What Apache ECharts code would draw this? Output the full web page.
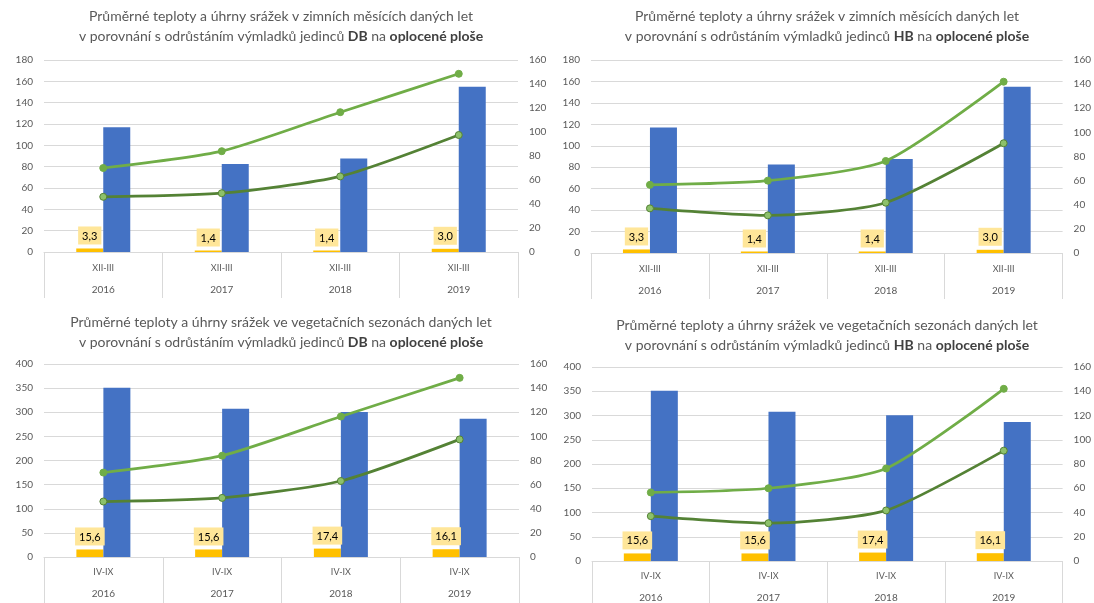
<!DOCTYPE html>
<html>
<head>
<meta charset="utf-8">
<script src="https://cdn.jsdelivr.net/npm/echarts@6/dist/echarts.min.js"></script>
<style>
  html, body { margin: 0; padding: 0; background: #fff; }
  #chart { width: 1094px; height: 603px; }
</style>
</head>
<body>
<div id="chart"></div>
<script>
// Years on the category axis and the season shown above each year
const years = ['2016', '2017', '2018', '2019'];
const winterPeriod = 'XII-III';
const vegPeriod = 'IV-IX';

// Mean temperature (°C) and precipitation (mm) per season
const winterTemp = [3.3, 1.4, 1.4, 3.0];
const winterPrecip = [117, 82.6, 87.6, 155];
const vegTemp = [15.6, 15.6, 17.4, 16.1];
const vegPrecip = [351, 307.5, 300.5, 286.5];

// Sprout growth (cm), right axis
const dbUpper = [70, 84, 116.5, 148.5];
const dbLower = [46, 49, 63, 97.5];
const hbUpper = [56.5, 60, 76.3, 142];
const hbLower = [37, 31.2, 41.7, 91];

// Axis tick ranges
const winterAxis = { max: 180, step: 20 };
const vegAxis = { max: 400, step: 50 };
const growthAxis = { max: 160, step: 20 };

const FONT = 'Lato';
const GRAY = '#595959';
const GRID = '#d9d9d9';

const panels = [
  { grid: { left: 44, top: 60, width: 474, height: 192 }, titleX: 281, titleY: 6,
    line1: 'Průměrné teploty a úhrny srážek v zimních měsících daných let', who: 'DB',
    period: winterPeriod, temp: winterTemp, precip: winterPrecip, axis: winterAxis,
    upper: dbUpper, lower: dbLower, labelMargin: 5 },
  { grid: { left: 591, top: 60, width: 472, height: 193 }, titleX: 827, titleY: 6,
    line1: 'Průměrné teploty a úhrny srážek v zimních měsících daných let', who: 'HB',
    period: winterPeriod, temp: winterTemp, precip: winterPrecip, axis: winterAxis,
    upper: hbUpper, lower: hbLower, labelMargin: 5 },
  { grid: { left: 44, top: 364, width: 475, height: 193 }, titleX: 281, titleY: 312,
    line1: 'Průměrné teploty a úhrny srážek ve vegetačních sezonách daných let', who: 'DB',
    period: vegPeriod, temp: vegTemp, precip: vegPrecip, axis: vegAxis,
    upper: dbUpper, lower: dbLower, labelMargin: 4 },
  { grid: { left: 592, top: 367, width: 471, height: 194 }, titleX: 827, titleY: 315,
    line1: 'Průměrné teploty a úhrny srážek ve vegetačních sezonách daných let', who: 'HB',
    period: vegPeriod, temp: vegTemp, precip: vegPrecip, axis: vegAxis,
    upper: hbUpper, lower: hbLower, labelMargin: 4 }
];

const fmtComma = v => v.toFixed(1).replace('.', ',');

const option = {
  backgroundColor: '#fff',
  animation: false,
  title: [], grid: [], xAxis: [], yAxis: [], series: []
};

panels.forEach((p, i) => {
  option.title.push({
    left: p.titleX, top: p.titleY, textAlign: 'center', padding: 0,
    text: '{n|' + p.line1 + '}\n{n|v porovnání s odrůstáním výmladků jedinců }{b|' + p.who +
          '}{n| na }{b|oplocené ploše}',
    textStyle: {
      fontWeight: 'normal',
      rich: {
        n: { fontFamily: FONT, fontSize: 14, fontWeight: 'normal', color: GRAY, lineHeight: 20 },
        b: { fontFamily: FONT, fontSize: 14, fontWeight: 'bold', color: '#404040', lineHeight: 20 }
      }
    }
  });

  option.grid.push(Object.assign({ containLabel: false }, p.grid));

  option.xAxis.push({
    type: 'category', gridIndex: i, data: years, boundaryGap: true,
    axisLine: { show: true, lineStyle: { color: GRID, width: 1 } },
    axisTick: { show: true, interval: 0, length: 46, lineStyle: { color: GRID, width: 1 } },
    axisLabel: {
      interval: 0, margin: p.labelMargin,
      formatter: (v) => '{a|' + p.period + '}\n{b|' + v + '}',
      rich: {
        a: { fontFamily: FONT, fontSize: 9, color: GRAY, lineHeight: 22 },
        b: { fontFamily: FONT, fontSize: 10, color: GRAY, lineHeight: 22 }
      }
    },
    splitLine: { show: false }
  });

  option.yAxis.push({
    type: 'value', gridIndex: i, min: 0, max: p.axis.max, interval: p.axis.step,
    axisLine: { show: false }, axisTick: { show: false },
    axisLabel: { fontFamily: FONT, fontSize: 10, color: GRAY, margin: 11 },
    splitLine: { show: true, lineStyle: { color: GRID, width: 1 } }
  });
  option.yAxis.push({
    type: 'value', gridIndex: i, position: 'right', min: 0, max: growthAxis.max, interval: growthAxis.step,
    axisLine: { show: false }, axisTick: { show: false },
    axisLabel: { fontFamily: FONT, fontSize: 10, color: GRAY, margin: 11 },
    splitLine: { show: false }
  });

  const yL = i * 2, yR = i * 2 + 1;

  option.series.push({
    name: 'teplota', type: 'bar', xAxisIndex: i, yAxisIndex: yL,
    data: p.temp, barWidth: 27, barGap: '0%',
    itemStyle: { color: '#FFC000' },
    label: {
      show: true, position: 'top', distance: 4,
      backgroundColor: '#FFE699', padding: [4, 4, 3, 4],
      fontFamily: FONT, fontSize: 11, color: '#000',
      formatter: (d) => fmtComma(d.value)
    },
    z: 2
  });
  option.series.push({
    name: 'srážky', type: 'bar', xAxisIndex: i, yAxisIndex: yL,
    data: p.precip, barWidth: 27, barGap: '0%',
    itemStyle: { color: '#4472C4' },
    z: 2
  });
  option.series.push({
    name: 'horní', type: 'line', xAxisIndex: i, yAxisIndex: yR,
    data: p.upper, smooth: 0.22,
    lineStyle: { color: '#70AD47', width: 2.75 },
    symbol: 'circle', symbolSize: 7,
    itemStyle: { color: '#70AD47', borderColor: '#70AD47', borderWidth: 1 },
    z: 5
  });
  option.series.push({
    name: 'dolní', type: 'line', xAxisIndex: i, yAxisIndex: yR,
    data: p.lower, smooth: 0.22,
    lineStyle: { color: '#548235', width: 2.75 },
    symbol: 'circle', symbolSize: 7,
    itemStyle: { color: '#8DC16B', borderColor: '#548235', borderWidth: 1 },
    z: 5
  });
});

const chart = echarts.init(document.getElementById('chart'), null, { renderer: 'canvas' });
chart.setOption(option);
</script>
</body>
</html>
